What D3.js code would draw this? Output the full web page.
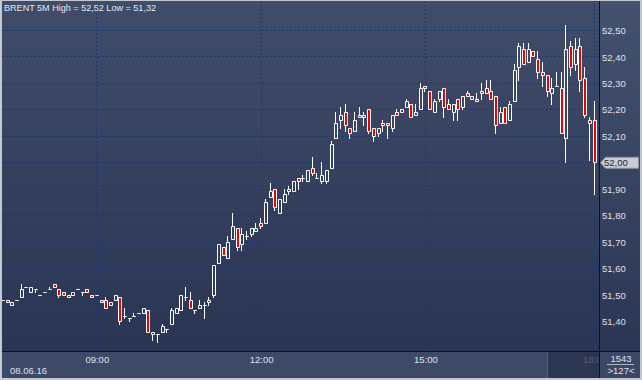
<!DOCTYPE html>
<html>
<head>
<meta charset="utf-8">
<script src="https://cdn.jsdelivr.net/npm/d3@7"></script>
<style>
html, body { margin: 0; padding: 0; background: #c4c8d0; }
svg { display: block; }
text { font-family: "Liberation Sans", Arial, sans-serif; font-size: 9.5px; }
</style>
</head>
<body>
<script>
// 5 minute Brent bars, 08.06.16
var open = [
	51.48, 51.47, 51.46, 51.48, 51.49, 51.53, 51.51, 51.52, 51.50, 51.51,
	51.52, 51.54, 51.52, 51.51, 51.49, 51.50, 51.52, 51.51, 51.52, 51.50,
	51.50, 51.48, 51.48, 51.46, 51.48, 51.49, 51.42, 51.41, 51.42, 51.43,
	51.43, 51.44, 51.35, 51.35, 51.36, 51.37, 51.39, 51.43, 51.44, 51.49,
	51.48, 51.44, 51.45, 51.46, 51.47, 51.50, 51.62, 51.68, 51.64, 51.71,
	51.75, 51.69, 51.72, 51.73, 51.74, 51.77, 51.77, 51.87, 51.90, 51.81,
	51.85, 51.89, 51.89, 51.94, 51.94, 51.93, 51.98, 51.94, 51.93, 51.93,
	51.98, 52.09, 52.16, 52.19, 52.13, 52.12, 52.17, 52.17, 52.20, 52.13,
	52.11, 52.15, 52.15, 52.13, 52.19, 52.19, 52.21, 52.22, 52.18, 52.20,
	52.28, 52.27, 52.19, 52.24, 52.28, 52.22, 52.19, 52.24, 52.21, 52.26,
	52.24, 52.23, 52.26, 52.28, 52.27, 52.25, 52.15, 52.21, 52.16, 52.23,
	52.36, 52.43, 52.38, 52.42, 52.39, 52.34, 52.33, 52.26, 52.29, 52.28,
	52.09, 52.44, 52.37, 52.44, 52.32, 52.16, 52.16
];
var high = [
	51.48, 51.48, 51.47, 51.48, 51.54, 51.53, 51.53, 51.52, 51.50, 51.51,
	51.53, 51.54, 51.52, 51.51, 51.50, 51.51, 51.52, 51.51, 51.52, 51.50,
	51.50, 51.48, 51.49, 51.47, 51.50, 51.49, 51.45, 51.41, 51.43, 51.43,
	51.45, 51.44, 51.36, 51.35, 51.39, 51.37, 51.45, 51.45, 51.50, 51.53,
	51.51, 51.44, 51.48, 51.47, 51.49, 51.61, 51.69, 51.68, 51.72, 51.81,
	51.75, 51.75, 51.74, 51.75, 51.77, 51.79, 51.86, 51.92, 51.90, 51.86,
	51.90, 51.91, 51.93, 51.94, 51.95, 51.97, 52.02, 51.96, 52.00, 51.97,
	52.08, 52.19, 52.21, 52.22, 52.13, 52.19, 52.21, 52.19, 52.20, 52.13,
	52.13, 52.16, 52.15, 52.18, 52.20, 52.20, 52.24, 52.22, 52.22, 52.30,
	52.29, 52.27, 52.24, 52.27, 52.28, 52.24, 52.22, 52.24, 52.25, 52.27,
	52.25, 52.26, 52.30, 52.31, 52.31, 52.25, 52.21, 52.21, 52.23, 52.37,
	52.45, 52.45, 52.45, 52.42, 52.42, 52.38, 52.33, 52.32, 52.34, 52.34,
	52.52, 52.46, 52.47, 52.47, 52.36, 52.17, 52.23
];
var low = [
	51.48, 51.47, 51.46, 51.48, 51.49, 51.53, 51.51, 51.51, 51.50, 51.51,
	51.52, 51.53, 51.49, 51.50, 51.49, 51.50, 51.52, 51.50, 51.51, 51.49,
	51.50, 51.47, 51.45, 51.46, 51.48, 51.39, 51.41, 51.40, 51.42, 51.43,
	51.43, 51.36, 51.33, 51.32, 51.36, 51.36, 51.39, 51.43, 51.44, 51.48,
	51.45, 51.43, 51.45, 51.41, 51.46, 51.49, 51.62, 51.65, 51.64, 51.71,
	51.67, 51.67, 51.71, 51.72, 51.74, 51.75, 51.77, 51.87, 51.82, 51.81,
	51.85, 51.88, 51.89, 51.90, 51.93, 51.93, 51.95, 51.94, 51.92, 51.92,
	51.98, 52.09, 52.13, 52.12, 52.09, 52.12, 52.17, 52.14, 52.11, 52.08,
	52.10, 52.12, 52.09, 52.12, 52.18, 52.19, 52.21, 52.17, 52.18, 52.20,
	52.27, 52.20, 52.19, 52.23, 52.17, 52.20, 52.16, 52.16, 52.20, 52.25,
	52.24, 52.23, 52.24, 52.26, 52.24, 52.11, 52.15, 52.15, 52.16, 52.23,
	52.31, 52.37, 52.38, 52.40, 52.32, 52.29, 52.25, 52.22, 52.29, 52.11,
	52.00, 52.33, 52.35, 52.27, 52.17, 52.01, 51.88
];
var close = [
	51.48, 51.48, 51.47, 51.48, 51.52, 51.53, 51.53, 51.52, 51.50, 51.51,
	51.52, 51.53, 51.50, 51.50, 51.50, 51.51, 51.52, 51.51, 51.51, 51.49,
	51.50, 51.47, 51.45, 51.47, 51.50, 51.40, 51.42, 51.41, 51.42, 51.43,
	51.45, 51.36, 51.36, 51.35, 51.38, 51.37, 51.44, 51.45, 51.50, 51.49,
	51.45, 51.44, 51.46, 51.46, 51.48, 51.61, 51.69, 51.65, 51.70, 51.76,
	51.68, 51.73, 51.72, 51.75, 51.75, 51.76, 51.85, 51.89, 51.83, 51.86,
	51.88, 51.90, 51.93, 51.93, 51.94, 51.97, 51.96, 51.94, 51.95, 51.97,
	52.07, 52.15, 52.18, 52.14, 52.11, 52.16, 52.18, 52.18, 52.12, 52.10,
	52.13, 52.14, 52.14, 52.18, 52.18, 52.20, 52.23, 52.17, 52.19, 52.28,
	52.29, 52.20, 52.23, 52.27, 52.21, 52.20, 52.22, 52.20, 52.25, 52.25,
	52.25, 52.24, 52.27, 52.26, 52.24, 52.14, 52.19, 52.15, 52.22, 52.35,
	52.44, 52.37, 52.43, 52.40, 52.34, 52.33, 52.27, 52.28, 52.29, 52.11,
	52.43, 52.36, 52.43, 52.31, 52.18, 52.15, 52.00
];

// price ticks on the right, time ticks (bar index) at the bottom
var yTicks = [51.4, 51.5, 51.6, 51.7, 51.8, 51.9, 52.0, 52.1, 52.2, 52.3, 52.4, 52.5];
var timeLabels = ['09:00', '12:00', '15:00', '18:00'];
var timeIndex = [20, 55, 90, 126];
var dateLabel = '08.06.16';
var barCount = 1543;

var w = 642, h = 380,
	plotL = 2, plotR = 599, plotT = 1, plotB = 351,
	axisB = 378, panelR = 640;

var fmt = function(v) { return v.toFixed(2).replace('.', ','); };

var x = d3.scaleLinear().domain([0, 126]).range([2.9, 594.5]);
var y = d3.scaleLinear().domain([51.4, 52.5]).range([321.5, 30.5]);

// snap to pixel rows
function sy(v) { return Math.floor(y(v)) + 0.5; }

var data = open.map(function(o, i) {
	return { i: i, o: o, h: high[i], l: low[i], c: close[i] };
});

var svg = d3.select('body').append('svg')
	.attr('width', w)
	.attr('height', h);

var defs = svg.append('defs');
var g1 = defs.append('linearGradient').attr('id', 'plotBg')
	.attr('x1', 0).attr('y1', 0).attr('x2', 0).attr('y2', 1);
g1.append('stop').attr('offset', 0).attr('stop-color', '#3f4c6a');
g1.append('stop').attr('offset', 1).attr('stop-color', '#2a3553');
var g2 = defs.append('linearGradient').attr('id', 'axisBg')
	.attr('x1', 0).attr('y1', 0).attr('x2', 0).attr('y2', 1);
g2.append('stop').attr('offset', 0).attr('stop-color', '#44516f');
g2.append('stop').attr('offset', 1).attr('stop-color', '#2b3654');
defs.append('clipPath').attr('id', 'plotClip')
	.append('rect')
	.attr('x', plotL).attr('y', plotT)
	.attr('width', plotR - plotL).attr('height', plotB - plotT);

// frame and panels
svg.append('rect').attr('width', w).attr('height', h).attr('fill', '#c4c8d0');
svg.append('rect')
	.attr('x', plotL).attr('y', plotT)
	.attr('width', plotR - plotL).attr('height', plotB - plotT)
	.attr('fill', 'url(#plotBg)');
svg.append('rect')
	.attr('x', plotR + 1).attr('y', plotT)
	.attr('width', panelR - plotR - 1).attr('height', plotB - plotT)
	.attr('fill', 'url(#axisBg)');
svg.append('rect')
	.attr('x', plotL).attr('y', plotB + 1)
	.attr('width', plotR - plotL).attr('height', axisB - plotB - 1)
	.attr('fill', '#3d4966');
svg.append('rect')
	.attr('x', plotR + 1).attr('y', plotB + 1)
	.attr('width', panelR - plotR - 1).attr('height', axisB - plotB - 1)
	.attr('fill', '#3b4764');

// dashed grid
var grid = svg.append('g')
	.attr('stroke', '#1b3a72')
	.attr('stroke-dasharray', '2,2');
grid.selectAll('.hgrid')
	.data(yTicks)
	.enter().append('line')
		.attr('class', 'hgrid')
		.attr('x1', plotL).attr('x2', plotR)
		.attr('y1', sy).attr('y2', sy);
grid.selectAll('.vgrid')
	.data(timeIndex)
	.enter().append('line')
		.attr('class', 'vgrid')
		.attr('x1', function(d) { return Math.floor(x(d)) + 0.5; })
		.attr('x2', function(d) { return Math.floor(x(d)) + 0.5; })
		.attr('y1', plotT).attr('y2', plotB);

// candles
var candles = svg.append('g').attr('clip-path', 'url(#plotClip)');

var bar = candles.selectAll('.bar')
	.data(data)
	.enter().append('g')
		.attr('class', 'bar');

bar.each(function(d) {
	var el = d3.select(this);
	var cx = Math.round(x(d.i));
	var top = sy(Math.max(d.o, d.c)),
		bot = sy(Math.min(d.o, d.c));
	var wx = cx - 0.5;
	if (d.h > Math.max(d.o, d.c))
		el.append('line')
			.attr('x1', wx).attr('x2', wx)
			.attr('y1', sy(d.h) - 0.5).attr('y2', top)
			.attr('stroke', '#fff');
	if (d.l < Math.min(d.o, d.c))
		el.append('line')
			.attr('x1', wx).attr('x2', wx)
			.attr('y1', bot).attr('y2', sy(d.l) + 0.5)
			.attr('stroke', '#fff');
	el.append('path')
		.attr('d', 'M' + (cx - 1.5) + ',' + top + 'H' + (cx + 1.5) + 'V' + bot + 'H' + (cx - 1.5) + 'Z')
		.attr('fill', d.c < d.o ? '#ee0000' : 'none')
		.attr('stroke', '#fff')
		.attr('stroke-width', 1);
});

// right price axis
var last = close[close.length - 1];
var yAxis = d3.axisRight(y)
	.tickValues(yTicks.filter(function(v) { return Math.abs(v - last) > 0.005; }))
	.tickSize(0)
	.tickPadding(2)
	.tickFormat(fmt);
var ya = svg.append('g')
	.attr('transform', 'translate(' + (plotR + 1) + ',0)')
	.call(yAxis);
ya.select('.domain').remove();
ya.selectAll('text')
	.attr('fill', '#dfe3ec')
	.style('font-size', '9.5px')
	.style('font-family', '"Liberation Sans", Arial, sans-serif');

// last price marker
var ly = y(last);
svg.append('path')
	.attr('d', 'M600.5,' + ly + 'L605.5,' + (ly - 5.5) + 'H638.5V' + (ly + 5.5) + 'H605.5Z')
	.attr('fill', '#c9ccd3')
	.attr('stroke', '#8d929e');
svg.append('text')
	.attr('x', 604)
	.attr('y', ly)
	.attr('dy', '0.34em')
	.attr('fill', '#1d2741')
	.text(fmt(last));

// bottom time axis
var xAxis = d3.axisBottom(x)
	.tickValues(timeIndex)
	.tickSize(0)
	.tickPadding(4)
	.tickFormat(function(d, i) { return timeLabels[i]; });
var xa = svg.append('g')
	.attr('transform', 'translate(0,' + (plotB + 1) + ')')
	.call(xAxis);
xa.select('.domain').remove();
xa.selectAll('text')
	.attr('fill', '#dfe3ec')
	.style('font-size', '9.5px')
	.style('font-family', '"Liberation Sans", Arial, sans-serif');

svg.append('text')
	.attr('x', 10).attr('y', 374)
	.attr('fill', '#dfe3ec')
	.text(dateLabel);

// darker block at the end of the time axis
svg.append('rect')
	.attr('x', 548).attr('y', plotB + 1)
	.attr('width', plotR - 548).attr('height', axisB - plotB - 1)
	.attr('fill', '#27304b')
	.attr('fill-opacity', 0.75);
svg.append('line')
	.attr('x1', 547.5).attr('x2', 547.5)
	.attr('y1', plotB + 1).attr('y2', axisB)
	.attr('stroke', '#56617c');

// corner box
svg.append('rect')
	.attr('x', plotR + 1).attr('y', plotB + 1)
	.attr('width', panelR - plotR - 1).attr('height', axisB - plotB - 1)
	.attr('fill', '#3b4764');
svg.append('text')
	.attr('x', 621).attr('y', 362)
	.attr('text-anchor', 'middle')
	.attr('fill', '#dfe3ec')
	.text(barCount);
svg.append('line')
	.attr('x1', 607).attr('x2', 634)
	.attr('y1', 364.5).attr('y2', 364.5)
	.attr('stroke', '#aeb5c4');
svg.append('text')
	.attr('x', 621).attr('y', 374)
	.attr('text-anchor', 'middle')
	.attr('fill', '#dfe3ec')
	.text('>' + data.length + '<');

// dividers
svg.append('line')
	.attr('x1', plotR + 0.5).attr('x2', plotR + 0.5)
	.attr('y1', plotT).attr('y2', axisB)
	.attr('stroke', '#0d1120');
svg.append('line')
	.attr('x1', plotL).attr('x2', panelR)
	.attr('y1', plotB + 0.5).attr('y2', plotB + 0.5)
	.attr('stroke', '#0d1120');

// title
svg.append('text')
	.attr('x', 4).attr('y', 11)
	.attr('fill', '#e6e9ef')
	.attr('textLength', 152)
	.attr('lengthAdjust', 'spacingAndGlyphs')
	.text('BRENT 5M High = ' + fmt(d3.max(high)) + ' Low = ' + fmt(d3.min(low)));
</script>
</body>
</html>
